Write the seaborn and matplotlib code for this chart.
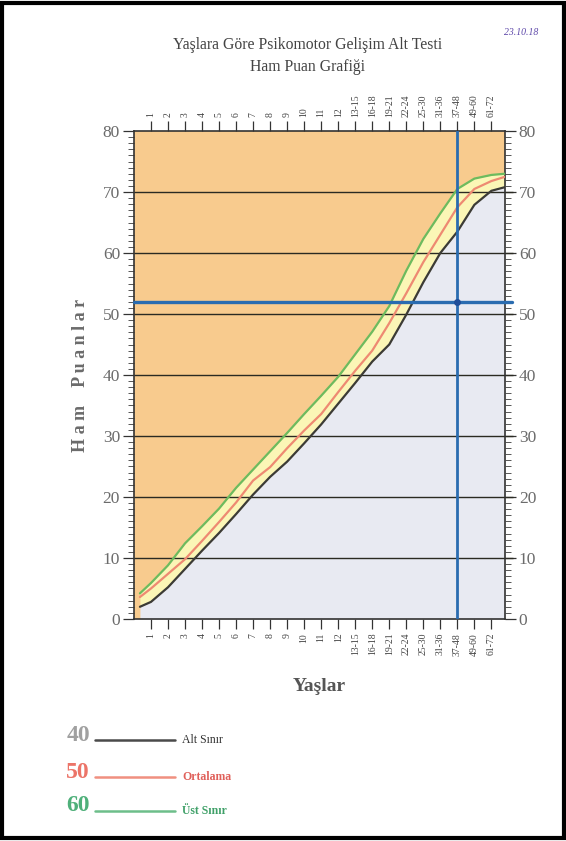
import pandas as pd
import matplotlib
matplotlib.use("Agg")
import matplotlib.pyplot as plt
from matplotlib.lines import Line2D
from matplotlib.patches import Rectangle
from matplotlib.ticker import MultipleLocator
import seaborn as sns

# age groups on the x axis (top and bottom)
age_labels = ["1", "2", "3", "4", "5", "6", "7", "8", "9", "10", "11", "12",
              "13-15", "16-18", "19-21", "22-24", "25-30", "31-36", "37-48", "49-60", "61-72"]

# curve vertices: position on the age axis (1 = first group) and raw score
age_pos = [0.35, 1, 2, 3, 4, 5, 6, 7, 8, 9, 10, 11, 12, 13, 14, 15, 16, 17, 18, 19, 20, 21, 21.8]
alt_sinir = [2.0, 2.8, 5.2, 8.2, 11.2, 14.1, 17.2, 20.4, 23.3, 25.8, 28.8, 31.9, 35.3, 38.7,
             42.2, 45.0, 49.9, 55.2, 60.0, 63.5, 67.9, 70.2, 70.8]
ortalama = [3.6, 5.0, 7.4, 9.8, 12.8, 15.9, 19.1, 22.7, 24.9, 28.0, 30.9, 33.6, 37.2, 40.7,
            44.0, 48.5, 53.4, 58.5, 63.0, 67.5, 70.5, 71.8, 72.5]
ust_sinir = [4.2, 5.9, 8.8, 12.4, 15.2, 18.1, 21.5, 24.5, 27.5, 30.5, 33.6, 36.6, 39.7, 43.4,
             47.1, 51.3, 57.1, 62.3, 66.5, 70.5, 72.2, 72.8, 73.0]

# child's result: age group 37-48, raw score 52
result_age = 19
result_score = 52

sns.set_style("ticks")
plt.rcParams['font.family'] = ['Liberation Serif', 'DejaVu Serif']

fig = plt.figure(figsize=(5.66, 8.41), dpi=100)
ax = fig.add_axes([0.2367, 0.2640, 0.6555, 0.5802])

ax.set_facecolor("#F8CB8E")
ax.fill_between(age_pos, alt_sinir, ust_sinir, color="#FBF6B6", lw=0, zorder=1)
ax.fill_between(age_pos, 0, alt_sinir, color="#E8EAF2", lw=0, zorder=1)

# horizontal guide lines every 10 points, running a little past the right frame
ax.hlines(range(10, 80, 10), 0, 22.3, color="#2a2a22", lw=1.0, zorder=2, clip_on=False)

df = pd.DataFrame({
    "age": age_pos * 3,
    "score": alt_sinir + ortalama + ust_sinir,
    "curve": ["Alt Sınır"] * len(age_pos) + ["Ortalama"] * len(age_pos) + ["Üst Sınır"] * len(age_pos),
})
sns.lineplot(data=df, x="age", y="score", hue="curve", sort=False, legend=False,
             palette={"Alt Sınır": "#3b3b36", "Ortalama": "#EE8A72", "Üst Sınır": "#6DBB5E"},
             lw=1.6, ax=ax, zorder=3)

# result marker
ax.axhline(result_score, xmin=0, xmax=22.2 / 21.8, color="#2A6CB0", lw=2.4, zorder=4, clip_on=False)
ax.axvline(result_age, color="#2A6CB0", lw=2.0, zorder=4)
ax.plot([result_age], [result_score], "o", color="#1F4E99", ms=4, zorder=5)

ax.set_xlim(0, 21.8)
ax.set_ylim(0, 80)
ax.set_xticks(range(1, len(age_labels) + 1))
ax.set_xticklabels(age_labels, rotation=90, fontsize=7, color="#444444")
ax.set_yticks(range(0, 81, 10))
ax.yaxis.set_minor_locator(MultipleLocator(1))
ax.tick_params(axis="x", top=True, labeltop=True, bottom=True, labelbottom=True,
               length=7, width=0.9, color="#333333", pad=3)
ax.tick_params(axis="y", left=True, right=True, labelleft=True, labelright=True,
               which="major", length=8, width=0.9, color="#333333", labelsize=12.5,
               labelcolor="#6b6b6b", pad=2)
ax.tick_params(axis="y", which="minor", left=True, right=True, length=4, width=0.7, color="#555555")
for s in ax.spines.values():
    s.set_color("#333333")
    s.set_linewidth(1.2)

ax.set_xlabel("Yaşlar", fontsize=14, fontweight="bold", color="#555555", labelpad=16)
ax.set_ylabel("H a m    P u a n l a r", fontsize=13, fontweight="bold", color="#6b6b6b", labelpad=10)

fig.text(0.543, 0.9465, "Yaşlara Göre Psikomotor Gelişim Alt Testi", ha="center", va="center",
         fontsize=11.3, color="#444444")
fig.text(0.543, 0.920, "Ham Puan Grafiği", ha="center", va="center", fontsize=11.3, color="#444444")
fig.text(0.92, 0.961, "23.10.18", ha="center", va="center", fontsize=7, color="#5B45A8",
         style="italic")

# legend at the foot of the page
legend_rows = [("40", "Alt Sınır", "#a0a0a0", "#4a4a4a", "#333333", "normal", 0.126),
               ("50", "Ortalama", "#EC7468", "#F09080", "#E0605A", "bold", 0.082),
               ("60", "Üst Sınır", "#4FB07A", "#6DBE8A", "#3FA068", "bold", 0.042)]
for num, name, ncol, lcol, tcol, weight, yy in legend_rows:
    fig.text(0.138, yy, num, ha="center", va="center", fontsize=17, color=ncol, fontweight="bold")
    fig.add_artist(Line2D([0.168, 0.309], [yy - 0.006, yy - 0.006], color=lcol, lw=1.8,
                          transform=fig.transFigure))
    fig.text(0.322, yy - 0.006, name, ha="left", va="center", fontsize=8.5, color=tcol,
             fontweight=weight)

fig.add_artist(Rectangle((0.004, 0.003), 0.992, 0.994, fill=False, ec="black", lw=3,
                         transform=fig.transFigure))

fig.savefig("out.png", dpi=100)
